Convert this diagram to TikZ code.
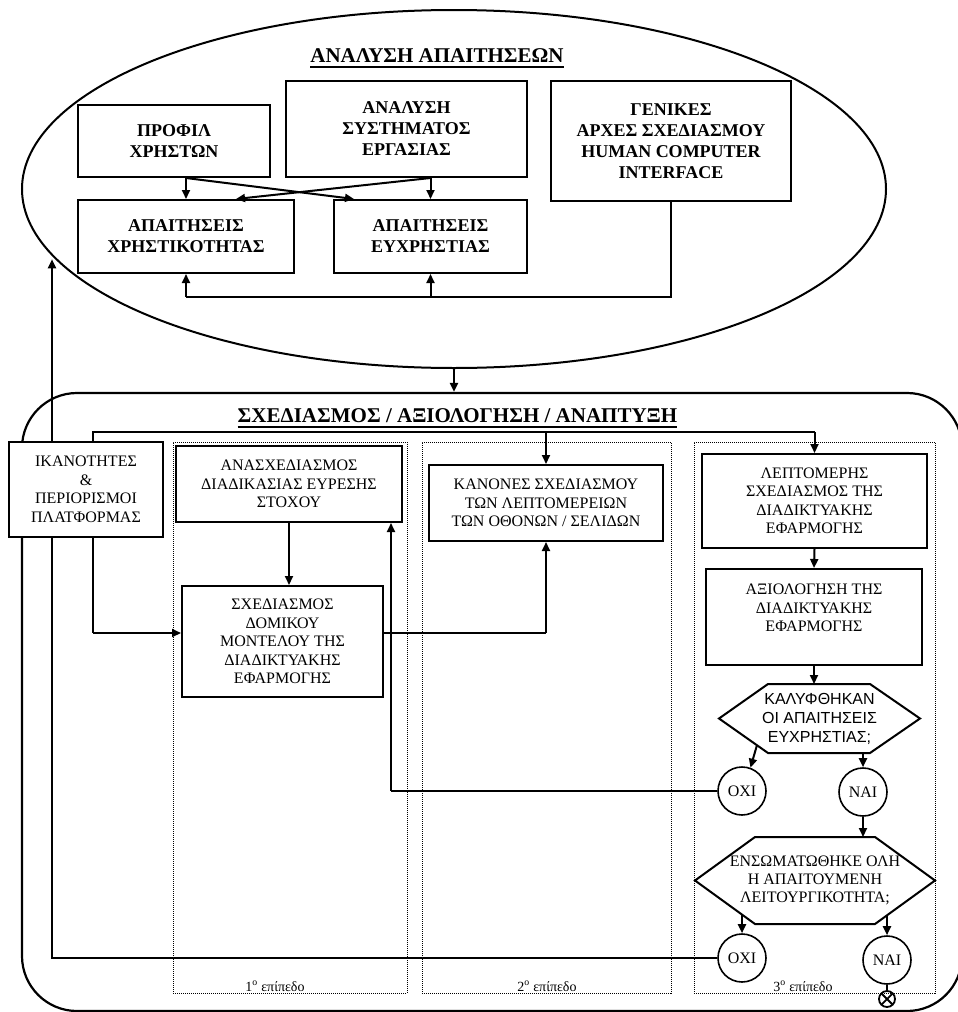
\documentclass[tikz,border=0pt]{standalone}
\usepackage{fontspec}
\setmainfont{Liberation Serif}
\newfontfamily\qsans{Liberation Sans}
\usetikzlibrary{arrows.meta,shapes.geometric}
\tikzset{
  boxline/.style = {draw, line width=2pt},
  bbox/.style    = {boxline, fill=white, align=center, inner sep=0pt,
                    font=\fontsize{18}{21}\selectfont\bfseries},
  pbox/.style    = {boxline, fill=white, align=center, inner sep=0pt,
                    font=\fontsize{16}{18.5}\selectfont},
  ans/.style     = {draw, circle, line width=1.6pt, fill=white, minimum size=48pt,
                    inner sep=0pt, font=\fontsize{16}{18}\selectfont},
  qtext/.style   = {align=center, inner sep=0pt, outer sep=0pt},
  panel/.style   = {draw, dash pattern=on 1pt off 1pt, line width=0.8pt},
  lvl/.style     = {anchor=base, inner sep=0pt, font=\fontsize{14}{16}\selectfont},
  heading/.style = {anchor=base, inner sep=0pt, font=\fontsize{21}{24}\selectfont\bfseries},
  link/.style    = {line width=1.2pt},
  arr/.style     = {-{Triangle[length=9pt,width=8pt]}, line width=2pt},
  endmark/.style = {draw, circle, line width=1.8pt, minimum size=16pt, inner sep=0pt,
                    path picture={\draw[line width=1.8pt]
                      (path picture bounding box.north west) -- (path picture bounding box.south east)
                      (path picture bounding box.north east) -- (path picture bounding box.south west);}}
}

\begin{document}
\begin{tikzpicture}[x=1pt,y=-1pt]
  \useasboundingbox (0,0) rectangle (958,1012);

  % ---- top: requirements analysis ----
  \node[draw, ellipse, line width=2pt, minimum width=864pt, minimum height=358pt] (ell) at (454,189) {};
  \node[heading] (t1) at (437,62) {ΑΝΑΛΥΣΗ ΑΠΑΙΤΗΣΕΩΝ};
  \draw[line width=2pt] ([yshift=-4.5pt]t1.base west) -- ([yshift=-4.5pt]t1.base east);
  \node[bbox, minimum width=192pt, minimum height=72pt] (prof) at (174,141) {ΠΡΟΦΙΛ\\ΧΡΗΣΤΩΝ};
  \node[bbox, minimum width=241pt, minimum height=96pt] (anal) at (406.5,129) {ΑΝΑΛΥΣΗ\\ΣΥΣΤΗΜΑΤΟΣ\\ΕΡΓΑΣΙΑΣ};
  \node[bbox, minimum width=240pt, minimum height=120pt] (gen) at (671,141) {ΓΕΝΙΚΕΣ\\ΑΡΧΕΣ ΣΧΕΔΙΑΣΜΟΥ\\HUMAN COMPUTER\\INTERFACE};
  \node[bbox, minimum width=216pt, minimum height=73pt] (apxr) at (186,236.5) {ΑΠΑΙΤΗΣΕΙΣ\\ΧΡΗΣΤΙΚΟΤΗΤΑΣ};
  \node[bbox, minimum width=193pt, minimum height=73pt] (apeu) at (430.5,236.5) {ΑΠΑΙΤΗΣΕΙΣ\\ΕΥΧΡΗΣΤΙΑΣ};
  \draw[arr] (apxr.north |- prof.south) -- (apxr.north);
  \draw[arr] (apxr.north |- prof.south) -- ([xshift=21pt]apeu.north west);
  \draw[arr] (apeu.north |- anal.south) -- (apeu.north);
  \draw[arr] (apeu.north |- anal.south) -- ([xshift=-59pt]apxr.north east);
  \coordinate (gb) at (0,297);
  \draw[link] (gen.south) |- (apxr.south |- gb);
  \draw[arr] (apxr.south |- gb) -- (apxr.south);
  \draw[arr] (apeu.south |- gb) -- (apeu.south);

  % ---- bottom: design / evaluation / development ----
  \node[draw, line width=2.2pt, rounded corners=55pt, minimum width=940pt, minimum height=618pt] (dev) at (492,702) {};
  \draw[arr] (ell.south) -- (ell.south |- dev.north);
  \node[heading] (t2) at (457.5,422) {ΣΧΕΔΙΑΣΜΟΣ / ΑΞΙΟΛΟΓΗΣΗ / ΑΝΑΠΤΥΞΗ};
  \draw[line width=2pt] ([yshift=-4.5pt]t2.base west) -- ([yshift=-4.5pt]t2.base east);
  \node[panel, minimum width=234pt, minimum height=551pt] (lv1) at (290,717.5) {};
  \node[panel, minimum width=249pt, minimum height=551pt] (lv2) at (546.5,717.5) {};
  \node[panel, minimum width=241pt, minimum height=551pt] (lv3) at (814.5,717.5) {};
  \node[lvl] at (275,991) {1\textsuperscript{ο} επίπεδο};
  \node[lvl] at (547,991) {2\textsuperscript{ο} επίπεδο};
  \node[lvl] at (803,991) {3\textsuperscript{ο} επίπεδο};

  \node[pbox, minimum width=154pt, minimum height=95pt] (ikan) at (86,489.5) {ΙΚΑΝΟΤΗΤΕΣ\\\&\\ΠΕΡΙΟΡΙΣΜΟΙ\\ΠΛΑΤΦΟΡΜΑΣ};
  \node[pbox, minimum width=226pt, minimum height=76pt] (anasx) at (289,484) {ΑΝΑΣΧΕΔΙΑΣΜΟΣ\\ΔΙΑΔΙΚΑΣΙΑΣ ΕΥΡΕΣΗΣ\\ΣΤΟΧΟΥ};
  \node[pbox, minimum width=201pt, minimum height=111pt] (domik) at (282.5,641.5) {ΣΧΕΔΙΑΣΜΟΣ\\ΔΟΜΙΚΟΥ\\ΜΟΝΤΕΛΟΥ ΤΗΣ\\ΔΙΑΔΙΚΤΥΑΚΗΣ\\ΕΦΑΡΜΟΓΗΣ};
  \node[pbox, minimum width=234pt, minimum height=76pt] (kanon) at (546,503) {ΚΑΝΟΝΕΣ ΣΧΕΔΙΑΣΜΟΥ\\ΤΩΝ ΛΕΠΤΟΜΕΡΕΙΩΝ\\ΤΩΝ ΟΘΟΝΩΝ / ΣΕΛΙΔΩΝ};
  \node[pbox, minimum width=225pt, minimum height=94pt] (lept) at (814.5,501) {ΛΕΠΤΟΜΕΡΗΣ\\ΣΧΕΔΙΑΣΜΟΣ ΤΗΣ\\ΔΙΑΔΙΚΤΥΑΚΗΣ\\ΕΦΑΡΜΟΓΗΣ};
  \node[pbox, minimum width=216pt, minimum height=96pt] (axiol) at (814,617) {ΑΞΙΟΛΟΓΗΣΗ ΤΗΣ\\ΔΙΑΔΙΚΤΥΑΚΗΣ\\ΕΦΑΡΜΟΓΗΣ\\\mbox{}};

  % questions (hexagons)
  \node[qtext, minimum width=201pt, minimum height=69pt, font=\qsans\fontsize{16}{19}\selectfont] (q1) at (819.5,718.5) {ΚΑΛΥΦΘΗΚΑΝ\\ΟΙ ΑΠΑΙΤΗΣΕΙΣ\\ΕΥΧΡΗΣΤΙΑΣ;};
  \draw[boxline] (q1.west) -- ([xshift=49pt]q1.north west) -- ([xshift=-50pt]q1.north east) -- (q1.east)
    -- ([xshift=-50pt]q1.south east) -- ([xshift=49pt]q1.south west) -- cycle;
  \node[ans] (oxi1) at (742,791) {ΟΧΙ};
  \node[ans] (nai1) at (863,792) {ΝΑΙ};
  \node[qtext, minimum width=240pt, minimum height=87pt, font=\fontsize{16}{18.3}\selectfont] (q2) at (815,880.5) {ΕΝΣΩΜΑΤΩΘΗΚΕ ΟΛΗ\\Η ΑΠΑΙΤΟΥΜΕΝΗ\\ΛΕΙΤΟΥΡΓΙΚΟΤΗΤΑ;};
  \draw[boxline] (q2.west) -- ([xshift=60pt]q2.north west) -- ([xshift=-60pt]q2.north east) -- (q2.east)
    -- ([xshift=-60pt]q2.south east) -- ([xshift=60pt]q2.south west) -- cycle;
  \node[ans] (oxi2) at (742,958) {ΟΧΙ};
  \node[ans] (nai2) at (887,960) {ΝΑΙ};
  \node[endmark] (stop) at (887,999) {};

  % connectors
  \coordinate (bus) at (0,432);
  \draw[link] ([xshift=7pt]ikan.north) |- (lept.north |- bus);
  \draw[arr] (kanon.north |- bus) -- (kanon.north);
  \draw[arr] (lept.north |- bus) -- (lept.north);
  \coordinate (dm) at ([yshift=8.5pt]domik.west);
  \draw[link] ([xshift=7pt]ikan.south) -- ([xshift=7pt]ikan.south |- dm);
  \draw[arr] ([xshift=7pt]ikan.south |- dm) -- (dm);
  \draw[arr] (anasx.south) -- (anasx.south |- domik.north);
  \draw[link] (domik.east |- dm) -- (kanon.south |- dm);
  \draw[arr] (kanon.south |- dm) -- (kanon.south);
  \draw[arr] (lept.south) -- (axiol.north);
  \draw[arr] (axiol.south) -- (axiol.south |- q1.north);
  \draw[arr] ([xshift=38pt,yshift=8pt]q1.south west) -- (oxi1.70);
  \draw[arr] (q1.south -| nai1) -- (nai1.north);
  \draw[arr] (nai1.south) -- (nai1.south |- q2.north);
  \coordinate (q2l) at ([yshift=9pt]q2.south);
  \draw[arr] (q2l -| oxi2) -- (oxi2.north);
  \draw[arr] (q2l -| nai2) -- (nai2.north);
  \draw[link] (nai2.south) -- (stop.north);
  \coordinate (r1) at ([xshift=-12pt]anasx.south east);
  \draw[link] (oxi1.west) -- (oxi1.west -| r1);
  \draw[arr] (oxi1.west -| r1) -- (r1);
  \draw[link] (oxi2.west) -| ([xshift=-34pt]ikan.south);
  \draw[arr] ([xshift=-34pt]ikan.north) -- ([xshift=-34pt]ikan.north |- ell.190);
\end{tikzpicture}
\end{document}
